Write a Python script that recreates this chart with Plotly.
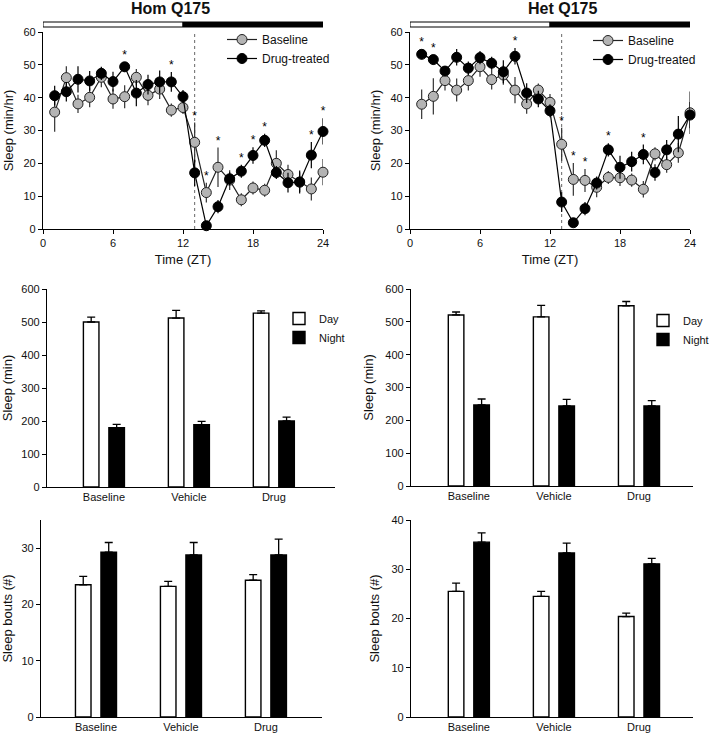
import plotly.graph_objects as go

# ---------------- data ----------------
hours = list(range(1, 25))

hom_base = [35.6, 46.1, 38.1, 40.1, 46.2, 39.6, 40.3, 46.2, 40.7, 42.6, 36.2, 37.0,
            26.4, 11.1, 18.8, 14.9, 8.9, 12.5, 11.8, 20.0, 16.6, 14.3, 12.2, 17.3]
hom_base_err = [6, 3.5, 2.8, 3, 3, 3, 3.5, 2.5, 3, 3, 2, 2,
                6, 3, 6, 3, 2, 2, 2, 4, 3, 3, 3.5, 4]
hom_drug = [40.6, 41.8, 45.6, 45.1, 47.4, 44.9, 49.4, 41.4, 44.0, 44.8, 44.8, 40.3,
            17.1, 1.0, 6.8, 15.3, 17.6, 22.4, 27.0, 17.2, 14.1, 14.3, 22.5, 29.7]
hom_drug_err = [3, 3, 4, 3, 2, 3, 1.5, 4, 3, 3.5, 3, 2,
                4, 1, 2, 2, 2, 2.5, 2, 2, 3, 3.5, 4, 4]
hom_stars = [7, 11, 13, 14, 15, 17, 18, 19, 23, 24]

het_base = [38.0, 40.4, 45.2, 42.3, 45.2, 49.4, 45.5, 46.9, 42.3, 38.1, 42.3, 38.6,
            25.8, 15.1, 14.8, 12.7, 15.7, 15.6, 14.9, 12.1, 22.9, 19.6, 23.2, 35.4]
het_base_err = [4.5, 5.5, 3, 3.5, 3, 3, 3, 3, 4, 3, 2, 2.5,
                5, 5, 3.5, 3, 2, 2.5, 2, 2.5, 2, 2.5, 3, 6.5]
het_drug = [53.2, 51.6, 48.1, 52.3, 49.0, 52.2, 50.5, 47.9, 52.6, 41.4, 39.6, 36.0,
            8.2, 1.9, 6.2, 14.0, 24.1, 18.8, 20.5, 22.7, 17.2, 24.1, 28.9, 34.7]
het_drug_err = [1.5, 1.5, 1.5, 2.5, 2, 2, 2, 3.5, 2.5, 3, 2.5, 2,
                3, 1, 2, 2, 2, 3.5, 3, 3, 2.5, 3, 5.5, 4]
het_stars = [1, 2, 9, 13, 14, 15, 17, 20]

conditions = ["Baseline", "Vehicle", "Drug"]

hom_sleep_day = [500, 512, 527]
hom_sleep_day_err = [15, 23, 7]
hom_sleep_night = [180, 189, 200]
hom_sleep_night_err = [10, 10, 12]

het_sleep_day = [521, 515, 549]
het_sleep_day_err = [9, 35, 13]
het_sleep_night = [247, 244, 244]
het_sleep_night_err = [18, 20, 16]

hom_bouts_day = [23.5, 23.2, 24.3]
hom_bouts_day_err = [1.5, 0.9, 1.0]
hom_bouts_night = [29.3, 28.8, 28.8]
hom_bouts_night_err = [1.7, 2.2, 2.8]

het_bouts_day = [25.5, 24.5, 20.4]
het_bouts_day_err = [1.7, 1.0, 0.7]
het_bouts_night = [35.5, 33.3, 31.1]
het_bouts_night_err = [1.9, 2.0, 1.1]

# ---------------- figure ----------------
FONT = "Liberation Sans, Arial, sans-serif"
W, H = 709, 734
fig = go.Figure()


def px_x(a, b):
    return [a / W, b / W]


def px_y(top, bottom):
    return [1 - bottom / H, 1 - top / H]


def line_panel(idx, base, base_err, drug, drug_err, stars, legend_name):
    xa = "x" if idx == 1 else f"x{idx}"
    ya = "y" if idx == 1 else f"y{idx}"
    fig.add_trace(go.Scatter(
        x=hours, y=base, mode="lines+markers", name="Baseline",
        xaxis=xa, yaxis=ya, legend=legend_name, cliponaxis=False,
        line=dict(color="#222", width=1.2),
        marker=dict(size=10, color="#b4b4b4", line=dict(color="#222", width=1)),
        error_y=dict(type="data", array=base_err, width=0, thickness=1.2, color="#333")))
    fig.add_trace(go.Scatter(
        x=hours, y=drug, mode="lines+markers", name="Drug-treated",
        xaxis=xa, yaxis=ya, legend=legend_name, cliponaxis=False,
        line=dict(color="#000", width=1.2),
        marker=dict(size=10, color="#000", line=dict(color="#000", width=1)),
        error_y=dict(type="data", array=drug_err, width=0, thickness=1.2, color="#000")))
    sx, sy = [], []
    for h in stars:
        i = h - 1
        top = max(base[i] + base_err[i], drug[i] + drug_err[i])
        sx.append(h)
        sy.append(top)
    fig.add_trace(go.Scatter(
        x=sx, y=sy, mode="text", text=["*"] * len(sx), textposition="top center",
        textfont=dict(size=12, color="#000000", family=FONT), showlegend=False,
        xaxis=xa, yaxis=ya, cliponaxis=False, hoverinfo="skip"))


def bar_panel(idx, day, day_err, night, night_err, legend_name, show_legend):
    xa = f"x{idx}"
    ya = f"y{idx}"
    fig.add_trace(go.Bar(
        x=conditions, y=day, name="Day", xaxis=xa, yaxis=ya,
        legend=legend_name, showlegend=show_legend,
        marker=dict(color="white", line=dict(color="black", width=1.4)),
        error_y=dict(type="data", array=day_err, arrayminus=[0] * 3, symmetric=False,
                     width=4, thickness=1.3, color="black")))
    fig.add_trace(go.Bar(
        x=conditions, y=night, name="Night", xaxis=xa, yaxis=ya,
        legend=legend_name, showlegend=show_legend,
        marker=dict(color="black", line=dict(color="black", width=1.4)),
        error_y=dict(type="data", array=night_err, arrayminus=[0] * 3, symmetric=False,
                     width=4, thickness=1.3, color="black")))


line_panel(1, hom_base, hom_base_err, hom_drug, hom_drug_err, hom_stars, "legend")
line_panel(2, het_base, het_base_err, het_drug, het_drug_err, het_stars, "legend2")
bar_panel(3, hom_sleep_day, hom_sleep_day_err, hom_sleep_night, hom_sleep_night_err, "legend3", True)
bar_panel(4, het_sleep_day, het_sleep_day_err, het_sleep_night, het_sleep_night_err, "legend4", True)
bar_panel(5, hom_bouts_day, hom_bouts_day_err, hom_bouts_night, hom_bouts_night_err, "legend3", False)
bar_panel(6, het_bouts_day, het_bouts_day_err, het_bouts_night, het_bouts_night_err, "legend4", False)

axis_common = dict(showline=True, linecolor="black", linewidth=1.2, showgrid=False,
                   zeroline=False, ticks="outside", ticklen=4, tickwidth=1.2,
                   automargin=False,
                   tickcolor="black", tickfont=dict(size=11, family=FONT, color="#111"))
title_font = dict(size=13, family=FONT, color="#111")

layout = dict(
    template="none",
    width=W, height=H, margin=dict(l=0, r=0, t=0, b=0, pad=0, autoexpand=False),
    paper_bgcolor="white", plot_bgcolor="white",
    font=dict(family=FONT, color="#111"),
    barmode="group", bargap=0.4, bargroupgap=0.39,
)

# top row line charts
layout["xaxis"] = dict(axis_common, domain=px_x(43, 323), range=[0, 24], tickvals=[0, 6, 12, 18, 24],
                       anchor="y", title=dict(text="Time (ZT)", font=title_font, standoff=6))
layout["yaxis"] = dict(axis_common, domain=px_y(32, 229), range=[0, 60], dtick=10, anchor="x",
                       title=dict(text="Sleep (min/hr)", font=title_font, standoff=6))
layout["xaxis2"] = dict(axis_common, domain=px_x(410, 690), range=[0, 24], tickvals=[0, 6, 12, 18, 24],
                        anchor="y2", title=dict(text="Time (ZT)", font=title_font, standoff=6))
layout["yaxis2"] = dict(axis_common, domain=px_y(32, 229), range=[0, 60], dtick=10, anchor="x2",
                        title=dict(text="Sleep (min/hr)", font=title_font, standoff=6))

# middle row bar charts
bar_x = dict(axis_common, ticks="", type="category")
layout["xaxis3"] = dict(bar_x, domain=px_x(47, 335), range=[-0.67, 2.72], anchor="y3")
layout["yaxis3"] = dict(axis_common, domain=px_y(289, 487), range=[0, 600], dtick=100, anchor="x3",
                        title=dict(text="Sleep (min)", font=title_font, standoff=8))
layout["xaxis4"] = dict(bar_x, domain=px_x(411, 693), range=[-0.68, 2.635], anchor="y4")
layout["yaxis4"] = dict(axis_common, domain=px_y(289, 486), range=[0, 600], dtick=100, anchor="x4",
                        title=dict(text="Sleep (min)", font=title_font, standoff=8))

# bottom row bar charts
layout["xaxis5"] = dict(bar_x, domain=px_x(41, 322), range=[-0.647, 2.66], anchor="y5")
layout["yaxis5"] = dict(axis_common, domain=px_y(520, 717), range=[0, 35], tickvals=[0, 10, 20, 30],
                        anchor="x5", title=dict(text="Sleep bouts (#)", font=title_font, standoff=8))
layout["xaxis6"] = dict(bar_x, domain=px_x(411, 693), range=[-0.68, 2.635], anchor="y6")
layout["yaxis6"] = dict(axis_common, domain=px_y(520, 717), range=[0, 40], dtick=10, anchor="x6",
                        title=dict(text="Sleep bouts (#)", font=title_font, standoff=8))

leg_common = dict(bgcolor="rgba(0,0,0,0)", font=dict(size=12, family=FONT, color="#111"),
                  tracegroupgap=0, itemwidth=30, xanchor="left", yanchor="top")
small_leg_font = dict(size=11, family=FONT, color="#111")
layout["legend"] = dict(leg_common, x=222 / W, y=1 - 25 / H)
layout["legend2"] = dict(leg_common, x=588 / W, y=1 - 26 / H)
layout["legend3"] = dict(leg_common, x=279 / W, y=1 - 304 / H, font=small_leg_font)
layout["legend4"] = dict(leg_common, x=643 / W, y=1 - 306 / H, font=small_leg_font)

# titles
layout["annotations"] = [
    dict(text="<b>Hom Q175</b>", x=170 / W, y=1 - 8 / H, xref="paper", yref="paper",
         xanchor="center", yanchor="middle",
         showarrow=False, font=dict(size=16, family=FONT, color="#111")),
    dict(text="<b>Het Q175</b>", x=562 / W, y=1 - 8 / H, xref="paper", yref="paper",
         xanchor="center", yanchor="middle",
         showarrow=False, font=dict(size=16, family=FONT, color="#111")),
]

# light/dark bars and dotted lines
shapes = []
for xr in ["x", "x2"]:
    shapes.append(dict(type="rect", xref=xr, yref="paper", x0=0, x1=12,
                       y0=1 - 27 / H, y1=1 - 22 / H, fillcolor="white",
                       line=dict(color="black", width=1)))
    shapes.append(dict(type="rect", xref=xr, yref="paper", x0=12, x1=24,
                       y0=1 - 27 / H, y1=1 - 22 / H, fillcolor="black",
                       line=dict(color="black", width=1)))
for xr, yr in [("x", "y"), ("x2", "y2")]:
    shapes.append(dict(type="line", xref=xr, yref=yr, x0=13, x1=13, y0=0, y1=60,
                       line=dict(color="#666", width=1, dash="dot"), layer="below"))
layout["shapes"] = shapes

fig.update_layout(**layout)
fig.write_html("out.html", config={"displayModeBar": False},
               post_script="document.body.style.margin='0';")
